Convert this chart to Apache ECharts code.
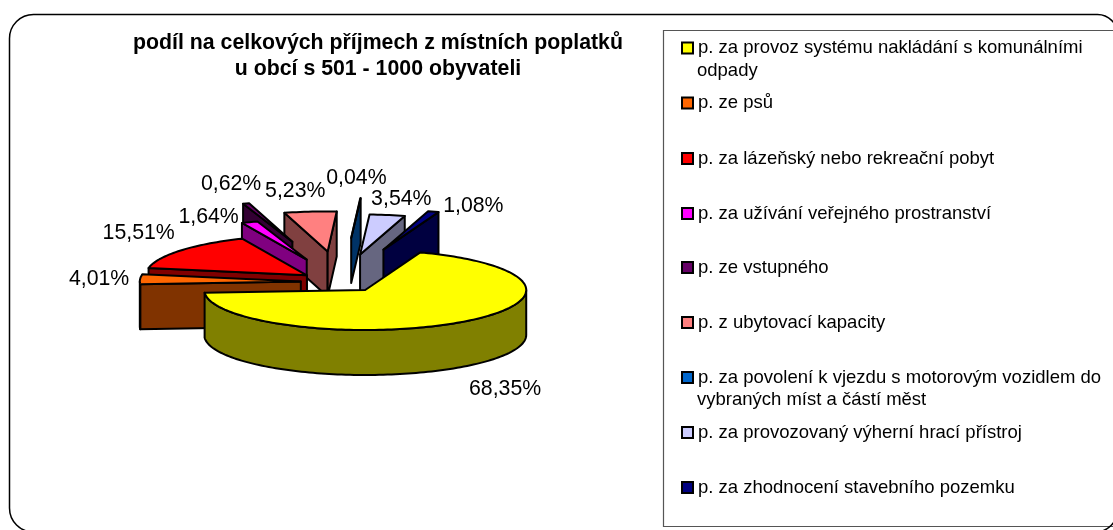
<!DOCTYPE html>
<html><head><meta charset="utf-8">
<style>html,body{margin:0;padding:0;background:#fff}#c{width:1113px;height:530px}</style>
<script src="https://cdn.jsdelivr.net/npm/echarts@6/dist/echarts.min.js"></script>
</head><body><div id="c"></div>
<script>
// Data
const titleLines = ['podíl na celkových příjmech z místních poplatků', 'u obcí s 501 - 1000 obyvateli'];
const categoryFirstLines = [
  'p. za provoz systému nakládání s komunálními', 'p. ze psů', 'p. za lázeňský nebo rekreační pobyt',
  'p. za užívání veřejného prostranství', 'p. ze vstupného', 'p. z ubytovací kapacity',
  'p. za povolení k vjezdu s motorovým vozidlem do', 'p. za provozovaný výherní hrací přístroj',
  'p. za zhodnocení stavebního pozemku'];
const categorySecondLines = ['odpady', '', '', '', '', '', 'vybraných míst a částí měst', '', ''];
const shares = [68.35, 4.01, 15.51, 1.64, 0.62, 5.23, 0.04, 3.54, 1.08];

// Style
const topColors  = ['#FFFF00', '#FF6600', '#FF0000', '#FF00FF', '#660066', '#FF8080', '#0066CC', '#CCCCFF', '#000080'];
const sideColors = ['#808000', '#803300', '#800000', '#800080', '#330033', '#804040', '#003366', '#666680', '#000040'];
const explode    = [0.25, 0.25, 0.27, 0.60, 1.05, 0.77, 1.10, 0.70, 0.85];
const labelDx    = [43, -41, -42, -41, -15, -15, -4, 14, 40];
const labelDy    = [67, 0, -17, -5, -19, -20, -20, -16, -6];
const paintOrder = [6, 7, 8, 5, 4, 3, 2, 1, 0];
const firstAngle = 20, cx = 341, cy = 282, rx = 161, ry = 40, depth = 45;
const font = 'Liberation Sans, Arial, sans-serif';
const legendCenterY = [49.5, 104.5, 160, 215, 269, 324, 379, 434, 489];
const legendFont = 18.5, labelFont = 21.3, titleFont = 21.3;
const STROKE = 2;

const total = shares.reduce((a, b) => a + b, 0);
const rad = d => d * Math.PI / 180;
function renderSlice(i) {
  return function (params, api) {
    const share = api.value(0), before = api.value(1);
    const t0 = firstAngle + 360 * before / total, t1 = t0 + 360 * share / total, mid = (t0 + t1) / 2;
    const ox = cx + explode[i] * rx * Math.sin(rad(mid)), oy = cy - explode[i] * ry * Math.cos(rad(mid));
    const pt = (t, dz) => [ox + rx * Math.sin(rad(t)), oy - ry * Math.cos(rad(t)) + (dz || 0)];
    const arc = (a, b, dz) => {
      const out = [], n = Math.max(1, Math.ceil((b - a) / 1.5));
      for (let k = 0; k <= n; k++) out.push(pt(a + (b - a) * k / n, dz));
      return out;
    };
    const poly = (points, fill) => ({type: 'polygon', shape: {points},
      style: {fill, stroke: '#000', lineWidth: STROKE, lineJoin: 'round'}});
    const tip = [ox, oy], tipD = [ox, oy + depth];
    const kids = [];
    const face = t => poly([tip, pt(t), pt(t, depth), tipD], sideColors[i]);
    if (Math.sin(rad(t0)) < 0) kids.push(face(t0));
    if (Math.sin(rad(t1)) > 0) kids.push(face(t1));
    [[90, 270], [450, 630]].forEach(r => {
      const a = Math.max(t0, r[0]), b = Math.min(t1, r[1]);
      if (b > a) kids.push(poly(arc(a, b, 0).concat(arc(a, b, depth).reverse()), sideColors[i]));
    });
    kids.push(poly([tip].concat(arc(t0, t1, 0)), topColors[i]));
    const o = pt(mid);
    kids.push({type: 'text', style: {
      text: share.toFixed(2).replace('.', ',') + '%',
      x: o[0] + labelDx[i], y: o[1] + labelDy[i],
      fontFamily: font, fontSize: labelFont, fill: '#000', align: 'center', verticalAlign: 'middle'}});
    return {type: 'group', children: kids};
  };
}
let cum = 0;
const befores = shares.map(s => { const b = cum; cum += s; return b; });
const series = paintOrder.map(i => ({
  type: 'custom', name: categoryFirstLines[i], coordinateSystem: 'none',
  itemStyle: {color: topColors[i]}, silent: true, animation: false,
  renderItem: renderSlice(i), data: [[shares[i], befores[i]]]
}));
const legendItemH = 22;
const legends = categoryFirstLines.map((c, i) => ({
  data: [c], orient: 'vertical', left: 681, top: legendCenterY[i] - legendItemH / 2, padding: 0,
  itemWidth: 11, itemHeight: legendItemH, itemGap: 0,
  icon: 'path://M0 5.5H11V16.5H0Z',
  itemStyle: {borderColor: '#000', borderWidth: 2},
  selectedMode: false,
  textStyle: {fontFamily: font, fontSize: legendFont, color: '#000'}
}));
const graphics = [
  {type: 'rect', z: -10, silent: true, shape: {x: 663.5, y: 30.5, width: 470, height: 496},
   style: {fill: '#fff', stroke: '#555', lineWidth: 1.2}},
  {type: 'rect', z: -9, silent: true, shape: {x: 9.5, y: 14.5, width: 1108, height: 517.5, r: [24, 20, 22, 24]},
   style: {fill: 'none', stroke: '#000', lineWidth: 1.5}}
];
categorySecondLines.forEach((t, i) => { if (t) graphics.push({type: 'text', z: 10, silent: true,
  style: {text: t, x: 697, y: legendCenterY[i] + 21, fontFamily: font, fontSize: legendFont, fill: '#000', verticalAlign: 'middle'}}); });
titleLines.forEach((t, i) => graphics.push({type: 'text', z: 10, silent: true,
  style: {text: t, x: 378, y: 43 + 26 * i, fontFamily: font, fontSize: titleFont, fontWeight: 'bold', fill: '#000', align: 'center', verticalAlign: 'middle'}}));
const chart = echarts.init(document.getElementById('c'), null, {renderer: 'canvas'});
chart.setOption({animation: false, backgroundColor: '#fff', tooltip: {show: false},
  legend: legends, series, graphic: {elements: graphics}});
</script></body></html>
